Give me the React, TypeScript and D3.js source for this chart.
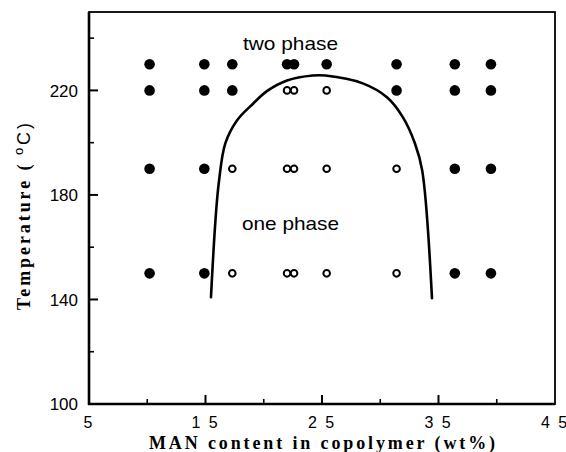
import * as d3 from 'd3';

// MAN content (wt%) of each copolymer sample
const samples = [10.2, 14.9, 17.3, 22.0, 22.6, 25.4, 31.4, 36.4, 39.5];
// temperatures of the measurement rows
const temps = [230, 220, 190, 150];
// true = two phase (filled), false = one phase (open), per row, per sample
const phaseRows = [
  [true, true, true, true, true, true, true, true, true],
  [true, true, true, false, false, false, true, true, true],
  [true, true, false, false, false, false, false, true, true],
  [true, true, false, false, false, false, false, true, true],
];

// binodal curve
const curveX = [15.47, 15.85, 16.15, 16.7, 17.7, 19.1, 20.3, 22.0, 24.2, 25.3, 28.5, 30.6, 31.95, 32.98, 33.6, 34.44];
const curveT = [140.9, 170, 185, 199.7, 208.5, 215, 219.8, 223.8, 225.7, 225.7, 222.7, 217.3, 209.7, 199.7, 189.4, 140.5];

const xMajor = [5, 15, 25, 35, 45];
const xTickLabels = ['5', '1 5', '2 5', '3 5', '4 5'];
const xMinor = [10, 20, 30, 40];
const yMajor = [100, 140, 180, 220];
const yTickLabels = ['100', '140', '180', '220'];
const yMinor = [120, 160, 200, 240];

const W = 566;
const H = 452;

export default function App() {
  const x = d3.scaleLinear().domain([5, 45]).range([89, 555]);
  const y = d3.scaleLinear().domain([100, 250]).range([404, 12]);

  const pts = curveX.map((v, i) => [v, curveT[i]] as [number, number]);
  const line = d3.line<[number, number]>()
    .x((d) => x(d[0]))
    .y((d) => y(d[1]))
    .curve(d3.curveCatmullRom.alpha(0.5));

  const sans = 'Liberation Sans, Arial, sans-serif';
  const serif = 'Liberation Serif, Times New Roman, serif';

  return (
    <svg width={W} height={H} style={{ position: 'absolute', left: 0, top: 0, background: '#fff' }}>
      {/* frame */}
      <rect x={x(5)} y={y(250)} width={x(45) - x(5)} height={y(100) - y(250)} fill="none" stroke="#000" strokeWidth={1.8} />
      <line x1={x(5)} x2={x(5)} y1={y(250)} y2={y(100) + 1} stroke="#000" strokeWidth={2.6} />
      <line x1={x(5) - 1} x2={x(45)} y1={y(100)} y2={y(100)} stroke="#000" strokeWidth={2.6} />

      {/* ticks */}
      {xMajor.slice(1, -1).map((t) => (
        <line key={`xM${t}`} x1={x(t)} x2={x(t)} y1={y(100)} y2={y(100) - 9} stroke="#000" strokeWidth={2} />
      ))}
      {xMinor.map((t) => (
        <line key={`xm${t}`} x1={x(t)} x2={x(t)} y1={y(100)} y2={y(100) - 5} stroke="#000" strokeWidth={1.6} />
      ))}
      {yMajor.slice(1).map((t) => (
        <line key={`yM${t}`} x1={x(5)} x2={x(5) + 9} y1={y(t)} y2={y(t)} stroke="#000" strokeWidth={2} />
      ))}
      {yMinor.map((t) => (
        <line key={`ym${t}`} x1={x(5)} x2={x(5) + 5} y1={y(t)} y2={y(t)} stroke="#000" strokeWidth={1.6} />
      ))}

      {/* tick labels */}
      {xMajor.map((t, i) => (
        <text key={`xl${t}`} x={x(t)} y={428} textAnchor="middle" fontFamily={sans} fontSize={16} letterSpacing={2} fill="#000">
          {xTickLabels[i]}
        </text>
      ))}
      {yMajor.map((t, i) => (
        <text key={`yl${t}`} x={78} y={y(t)} dy="0.36em" textAnchor="end" fontFamily={sans} fontSize={17} fill="#000">
          {yTickLabels[i]}
        </text>
      ))}

      {/* axis titles */}
      <text x={149} y={449} fontFamily={serif} fontWeight="bold" fontSize={18} textLength={346} lengthAdjust="spacing" fill="#000">
        MAN content in copolymer (wt%)
      </text>
      <text transform="translate(30,310) rotate(-90)" fontFamily={serif} fontWeight="bold" fontSize={18} textLength={187} lengthAdjust="spacing" fill="#000">
        Temperature (
        <tspan fontFamily={sans} fontWeight="normal" fontSize={13} dy={-7}> o</tspan>
        <tspan fontFamily={sans} fontWeight="normal" dy={7}>C)</tspan>
      </text>

      {/* region labels */}
      <text x={243} y={50} fontFamily={sans} fontSize={19} textLength={95} lengthAdjust="spacingAndGlyphs" fill="#000">two phase</text>
      <text x={242} y={230} fontFamily={sans} fontSize={19} textLength={97} lengthAdjust="spacingAndGlyphs" fill="#000">one phase</text>

      {/* phase boundary */}
      <path d={line(pts) ?? ''} fill="none" stroke="#000" strokeWidth={2.6} strokeLinecap="round" />

      {/* cloud-point data */}
      {temps.map((t, r) =>
        samples.map((s, c) =>
          phaseRows[r][c] ? (
            <circle key={`p${r}-${c}`} cx={x(s)} cy={y(t)} r={5.3} fill="#000" />
          ) : (
            <circle key={`p${r}-${c}`} cx={x(s)} cy={y(t)} r={3.3} fill="#fff" stroke="#000" strokeWidth={2} />
          )
        )
      )}
    </svg>
  );
}
